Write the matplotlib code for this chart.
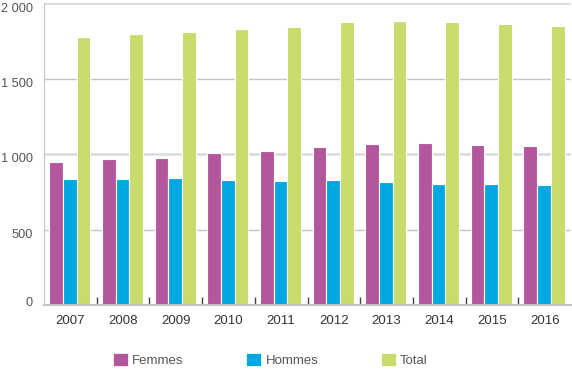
import numpy as np
import matplotlib
matplotlib.use("Agg")
import matplotlib.pyplot as plt
import matplotlib.transforms as mtransforms
from matplotlib.patches import Patch

plt.rcParams['font.family'] = ['Liberation Sans', 'DejaVu Sans']

# Data
years = ['2007', '2008', '2009', '2010', '2011', '2012', '2013', '2014', '2015', '2016']
femmes = [945, 965, 973, 1004, 1018, 1048, 1066, 1071, 1060, 1055]
hommes = [834, 832, 839, 826, 821, 828, 817, 803, 801, 795]
total = [1777, 1792, 1808, 1828, 1841, 1876, 1883, 1872, 1859, 1850]

series_names = ['Femmes', 'Hommes', 'Total']
colors = ['#b4569e', '#00a8e2', '#c8dc6c']

fig = plt.figure(figsize=(5.72, 3.71), dpi=100)
ax = fig.add_axes([44 / 572, 66 / 371, 527 / 572, 302 / 371])

x = np.arange(len(years))
w = 0.26
for i, (vals, col) in enumerate(zip([femmes, hommes, total], colors)):
    ax.bar(x + (i - 1) * w - 0.012, vals, width=w, color=col,
           edgecolor='white', linewidth=0.8, zorder=3)

ax.set_xlim(-0.5, len(years) - 0.5)
ax.set_ylim(0, 2000)

# gridlines
for v in [500, 1500]:
    ax.axhline(v, color='#c4c4c4', lw=1, zorder=1)
for v in [1000, 2000]:
    ax.axhline(v, color='#dadada', lw=1.8, zorder=1)

ax.set_yticks([0, 500, 1000, 1500, 2000])
ax.set_yticklabels(['0', '500', '1 000', '1 500', '2 000'])
ax.tick_params(axis='y', length=0, pad=8, labelsize=9.2, labelcolor='#555555')

# labels sit a little below their gridlines in the original (0 a little above)
for lab, dy in zip(ax.get_yticklabels(), [3, -4, -4, -4, -4]):
    lab.set_transform(lab.get_transform() +
                      mtransforms.ScaledTranslation(0, dy / 100, fig.dpi_scale_trans))

ax.set_xticks(x)
ax.set_xticklabels(years)
ax.tick_params(axis='x', which='major', length=0, pad=7, labelsize=9.5, labelcolor='#333333')
ax.set_xticks(x[:-1] + 0.5, minor=True)
ax.tick_params(axis='x', which='minor', direction='in', length=6, width=1, color='#444444')

for s in ['top', 'right']:
    ax.spines[s].set_visible(False)
ax.spines['left'].set_color('#c4c4c4')
ax.spines['bottom'].set_color('#c4c4c4')
ax.spines['bottom'].set_linewidth(1.5)
ax.spines['bottom'].set_zorder(4)

handles = [Patch(facecolor=c, edgecolor='white', linewidth=0.5) for c in colors]
fig.legend(handles, series_names, loc='center left', bbox_to_anchor=(113 / 572, 11 / 371),
           ncol=3, frameon=False, handlelength=1.1, handleheight=1.1, handletextpad=0.35,
           columnspacing=4.75, fontsize=9.5, labelcolor='#555555', borderpad=0, borderaxespad=0)

fig.savefig('out.png', dpi=100)
